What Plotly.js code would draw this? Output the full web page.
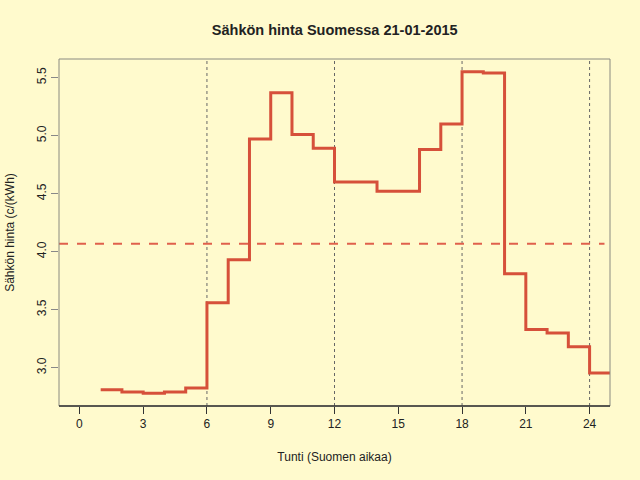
<!DOCTYPE html>
<html>
<head>
<meta charset="utf-8">
<script src="https://cdn.plot.ly/plotly-3.0.1.min.js"></script>
<style>
  body { margin: 0; background: #FFFACD; }
  #chart { width: 640px; height: 480px; }
</style>
</head>
<body>
<div id="chart"></div>
<script>
// tuntihinnat 21.1.2015, c/kWh (tunti 1 = 00-01 jne.)
var hours = [1, 2, 3, 4, 5, 6, 7, 8, 9, 10, 11, 12,
             13, 14, 15, 16, 17, 18, 19, 20, 21, 22, 23, 24];
var prices = [2.81, 2.79, 2.78, 2.79, 2.825, 3.56, 3.93, 4.97, 5.37, 5.01, 4.89, 4.60,
              4.60, 4.52, 4.52, 4.88, 5.10, 5.55, 5.54, 3.81, 3.33, 3.30, 3.18, 2.955];
var xTicks = [0, 3, 6, 9, 12, 15, 18, 21, 24];
var yTicks = [3.0, 3.5, 4.0, 4.5, 5.0, 5.5];
var gridHours = [6, 12, 18, 24];

// viimeinen porras jatkuu tunnin loppuun
var stepX = hours.concat([hours[hours.length - 1] + 1]);
var stepY = prices.concat([prices[prices.length - 1]]);

var mean = prices.reduce(function (a, b) { return a + b; }, 0) / prices.length;

var bg = "#FFFACD";
var font = "Liberation Sans, Arial, sans-serif";

var shapes = gridHours.map(function (h) {
  return {
    type: "line", xref: "x", yref: "paper",
    x0: h, x1: h, y0: 0, y1: 1,
    line: { color: "#666", width: 1, dash: "dot" },
    layer: "below"
  };
});
shapes.push({
  type: "line", xref: "paper", yref: "y",
  x0: 0, x1: 0.99, y0: mean, y1: mean,
  line: { color: "#E0604C", width: 2, dash: "dash" }
});
// laatikko
shapes.push({
  type: "rect", xref: "paper", yref: "paper",
  x0: 0, x1: 1, y0: 0, y1: 1,
  line: { color: "#8a8a80", width: 1 }
});
shapes.push({
  type: "line", xref: "paper", yref: "paper",
  x0: 0, x1: 1, y0: 0, y1: 0,
  line: { color: "#333", width: 1.3 }
});

var data = [{
  type: "scatter",
  mode: "lines",
  x: stepX,
  y: stepY,
  line: { shape: "hv", color: "#D6503A", width: 3 },
  hoverinfo: "x+y"
}];

var layout = {
  width: 640, height: 480,
  margin: { l: 59, r: 30, t: 59, b: 74 },
  paper_bgcolor: bg,
  plot_bgcolor: bg,
  showlegend: false,
  font: { family: font, size: 12, color: "#222" },
  title: {
    text: "<b>Sähkön hinta Suomessa 21-01-2015</b>",
    font: { family: font, size: 14.5, color: "#222" },
    x: 0.523, xanchor: "center", y: 0.937, yanchor: "middle"
  },
  xaxis: {
    range: [-0.96, 24.96],
    tickmode: "array",
    tickvals: xTicks,
    ticks: "outside", ticklen: 7, tickcolor: "#333",
    showgrid: false, zeroline: false, showline: false,
    tickfont: { size: 12, color: "#222" },
    title: { text: "Tunti (Suomen aikaa)", standoff: 22, font: { size: 12, color: "#222" } }
  },
  yaxis: {
    range: [2.67, 5.66],
    tickmode: "array",
    tickvals: yTicks,
    ticktext: yTicks.map(function (v) { return v.toFixed(1); }),
    tickangle: -90,
    ticks: "outside", ticklen: 7, tickcolor: "#888",
    showgrid: false, zeroline: false, showline: false,
    tickfont: { size: 12, color: "#222" },
    title: { text: "Sähkön hinta (c/(kWh)", standoff: 18, font: { size: 12, color: "#222" } }
  },
  shapes: shapes
};

Plotly.newPlot("chart", data, layout, { displayModeBar: false, staticPlot: true });
</script>
</body>
</html>
